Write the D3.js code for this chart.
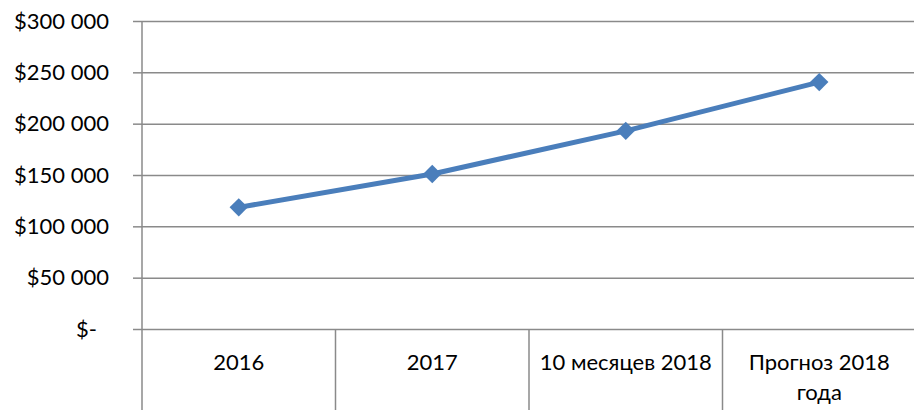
<!DOCTYPE html>
<html>
<head>
<meta charset="utf-8">
<script src="https://cdn.jsdelivr.net/npm/d3@7"></script>
<style>
  html, body { margin: 0; padding: 0; background: #fff; }
  text { font-family: Lato, "Noto Sans", sans-serif; fill: #000; }
</style>
</head>
<body>
<svg id="chart"></svg>
<script>
// chart data
const categories = ['2016', '2017', '10 месяцев 2018', 'Прогноз 2018 года'];
const revenue = [118500, 151000, 193000, 240500];
const yTicks = [0, 50000, 100000, 150000, 200000, 250000, 300000];

const width = 914;
const height = 410;
const plotLeft = 142, plotRight = 916, plotTop = 21, plotBottom = 329;
const fontSize = 22;

const svg = d3.select('#chart')
    .attr('width', width)
    .attr('height', height);

const x = d3.scaleBand()
    .domain(categories)
    .range([plotLeft, plotRight]);

const y = d3.scaleLinear()
    .domain([0, 300000])
    .range([plotBottom, plotTop]);

const gridColor = '#8a8a8a';

// money format like "$250 000", zero as "$-"
const fmt = v => v === 0 ? '$-' : '$' + d3.format(',')(v).replace(/,/g, ' ');

// gridlines
const grid = svg.append('g')
    .attr('transform', `translate(${plotLeft},0)`)
    .call(d3.axisLeft(y).tickValues(yTicks).tickSize(-(width - plotLeft)).tickFormat(''));
grid.select('.domain').remove();
grid.selectAll('line').attr('stroke', gridColor).attr('stroke-width', 1.5);

// y axis with outside ticks and labels
const yAxis = svg.append('g')
    .attr('transform', `translate(${plotLeft},0)`)
    .call(d3.axisLeft(y).tickValues(yTicks).tickSize(9).tickPadding(24).tickFormat(fmt));
yAxis.select('.domain').remove();
yAxis.selectAll('line').attr('stroke', gridColor).attr('stroke-width', 1.5);
yAxis.selectAll('text')
    .attr('font-size', fontSize)
    .attr('dy', '0.33em')
    .attr('dx', d => d === 0 ? -12 : 0);

// vertical axis line, continues below the plot
svg.append('line')
    .attr('x1', plotLeft).attr('x2', plotLeft)
    .attr('y1', plotTop).attr('y2', height)
    .attr('stroke', gridColor).attr('stroke-width', 1.5);

// category dividers below the plot
svg.append('g')
    .selectAll('line')
    .data(categories.slice(1))
    .join('line')
    .attr('x1', d => x(d)).attr('x2', d => x(d))
    .attr('y1', plotBottom).attr('y2', height)
    .attr('stroke', gridColor).attr('stroke-width', 1.5);

// category labels, wrapped to band width
const maxW = x.bandwidth() - 8;
const labels = svg.append('g')
    .selectAll('text')
    .data(categories)
    .join('text')
    .attr('x', d => x(d) + x.bandwidth() / 2)
    .attr('y', 370)
    .attr('text-anchor', 'middle')
    .attr('font-size', fontSize)
    .text(d => d);

labels.each(function (d) {
    const t = d3.select(this);
    if (this.getComputedTextLength() <= maxW) return;
    const words = d.split(' ');
    t.text('');
    let line = [];
    let tspan = t.append('tspan').attr('x', x(d) + x.bandwidth() / 2);
    words.forEach(w => {
        line.push(w);
        tspan.text(line.join(' '));
        if (tspan.node().getComputedTextLength() > maxW && line.length > 1) {
            line.pop();
            tspan.text(line.join(' '));
            line = [w];
            tspan = t.append('tspan')
                .attr('x', x(d) + x.bandwidth() / 2)
                .attr('dy', 30)
                .text(w);
        }
    });
});

// line series
const cx = d => x(d) + x.bandwidth() / 2;
const pts = categories.map((c, i) => [cx(c), y(revenue[i])]);

svg.append('path')
    .datum(pts)
    .attr('d', d3.line())
    .attr('fill', 'none')
    .attr('stroke', '#4a7ebb')
    .attr('stroke-width', 5)
    .attr('stroke-linejoin', 'round');

svg.append('g')
    .selectAll('path')
    .data(pts)
    .join('path')
    .attr('transform', d => `translate(${d[0]},${d[1]}) rotate(45)`)
    .attr('d', 'M-6.5,-6.5H6.5V6.5H-6.5Z')
    .attr('fill', '#4a7ebb');
</script>
</body>
</html>
